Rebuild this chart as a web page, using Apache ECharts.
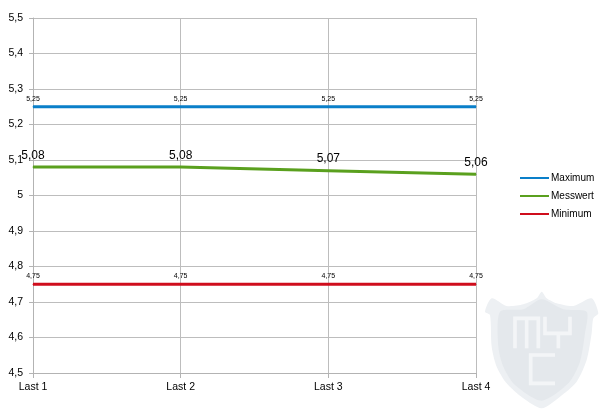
<!DOCTYPE html>
<html><head><meta charset="utf-8">
<style>html,body{margin:0;padding:0;background:#fff}#c{width:600px;height:411px}</style>
<script src="https://cdn.jsdelivr.net/npm/echarts@6/dist/echarts.min.js"></script>
</head><body><div id="c"></div>
<script>
const categories = ["Last 1","Last 2","Last 3","Last 4"];
const maximum = [5.25,5.25,5.25,5.25];
const messwert = [5.08,5.08,5.07,5.06];
const minimum = [4.75,4.75,4.75,4.75];
const font = "Liberation Sans";
const comma = v => String(v).replace(".",",");
const chart = echarts.init(document.getElementById("c"),null,{renderer:"canvas"});
function lineSeries(name,data,color,size,dist){
  return {name,type:"line",data,symbol:"circle",symbolSize:1,showSymbol:true,silent:true,
    lineStyle:{color,width:3,cap:"butt"},itemStyle:{color},
    label:{show:true,position:"top",distance:dist,fontFamily:font,fontSize:size,color:"#000",
      formatter:p=>comma(p.value)}};
}
const letter = "#f3f5f7";
const stroke = pts => ({type:"polyline",shape:{points:pts},style:{fill:null,stroke:letter,lineWidth:11}});
chart.setOption({
  animation:false,
  backgroundColor:"#fff",
  textStyle:{fontFamily:font},
  grid:{left:33,right:124,top:18,bottom:38,containLabel:false},
  legend:{orient:"vertical",left:515,top:168,itemWidth:29,itemHeight:2,itemGap:8,
    icon:"rect",textStyle:{fontFamily:font,fontSize:10,color:"#000",padding:[0,0,0,-3]},
    data:["Maximum","Messwert","Minimum"]},
  xAxis:{type:"category",data:categories,boundaryGap:false,
    axisLine:{lineStyle:{color:"#b3b3b3",width:1}},
    axisTick:{show:true,length:5,alignWithLabel:true,lineStyle:{color:"#b3b3b3"}},
    axisLabel:{fontFamily:font,fontSize:10.5,color:"#000",margin:9},
    splitLine:{show:true,lineStyle:{color:"#bdbdbd",width:1}}},
  yAxis:{type:"value",min:4.5,max:5.5,interval:0.1,
    axisLine:{show:true,lineStyle:{color:"#b3b3b3",width:1}},
    axisTick:{show:true,length:4,lineStyle:{color:"#b3b3b3"}},
    axisLabel:{fontFamily:font,fontSize:10.5,color:"#000",margin:10,formatter:v=>comma(+v.toFixed(1))},
    splitLine:{show:true,lineStyle:{color:"#bdbdbd",width:1}}},
  series:[
    lineSeries("Maximum",maximum,"#0a7fc9",7,4),
    lineSeries("Messwert",messwert,"#5aa01e",12,5),
    lineSeries("Minimum",minimum,"#cf0d1c",7,4)
  ],
  graphic:[
    {type:"group",x:440,y:270,scaleX:1/3,scaleY:1/3,silent:true,children:[
      {type:"polygon",shape:{smooth:0.25,points:[[305,65],[290,85],[250,103],[200,108],[155,85],[135,125],[150,135],[155,230],[170,290],[200,340],[250,385],[305,415],[360,380],[410,335],[440,270],[455,190],[460,145],[475,130],[455,85],[400,108],[350,100],[320,85]]},
        style:{fill:"#edf0f3"}},
      {type:"polygon",shape:{smooth:0.25,points:[[305,88],[250,118],[180,125],[175,230],[190,290],[225,345],[305,392],[385,340],[420,275],[435,190],[440,125],[370,118]]},
        style:{fill:"#e4e8ec"}},
      stroke([[225,235],[225,145],[295,145],[295,235]]),
      stroke([[260,145],[260,235]]),
      stroke([[315,140],[315,190],[390,190],[390,140]]),
      stroke([[355,190],[355,235]]),
      stroke([[345,255],[272,255],[272,340],[345,340]])
    ]}
  ]
});
</script></body></html>
